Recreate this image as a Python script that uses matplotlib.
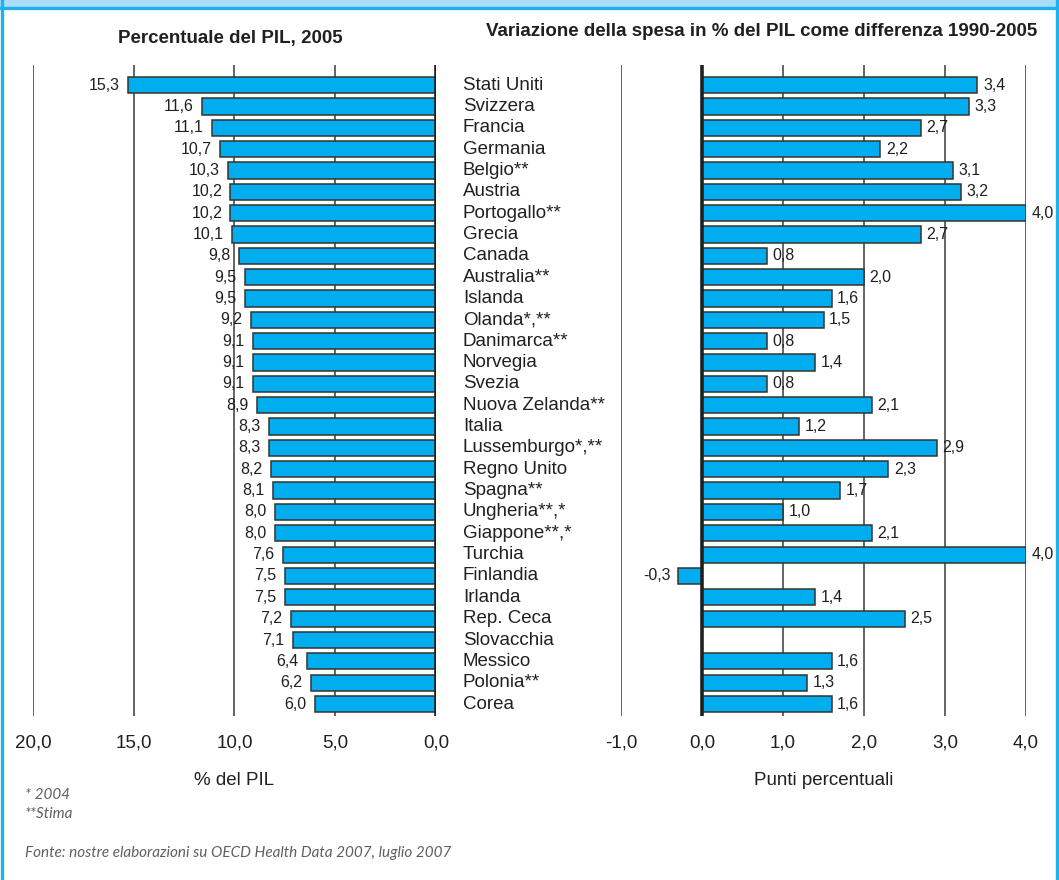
import numpy as np
import matplotlib
matplotlib.use("Agg")
import matplotlib.pyplot as plt
from matplotlib.patches import Rectangle
from matplotlib.lines import Line2D

# Paesi OCSE, spesa sanitaria
paesi = ["Stati Uniti", "Svizzera", "Francia", "Germania", "Belgio**", "Austria",
         "Portogallo**", "Grecia", "Canada", "Australia**", "Islanda", "Olanda*,**",
         "Danimarca**", "Norvegia", "Svezia", "Nuova Zelanda**", "Italia",
         "Lussemburgo*,**", "Regno Unito", "Spagna**", "Ungheria**,*", "Giappone**,*",
         "Turchia", "Finlandia", "Irlanda", "Rep. Ceca", "Slovacchia", "Messico",
         "Polonia**", "Corea"]
spesa_pil_2005 = [15.3, 11.6, 11.1, 10.7, 10.3, 10.2, 10.2, 10.1, 9.8, 9.5, 9.5, 9.2,
                  9.1, 9.1, 9.1, 8.9, 8.3, 8.3, 8.2, 8.1, 8.0, 8.0, 7.6, 7.5, 7.5,
                  7.2, 7.1, 6.4, 6.2, 6.0]
variazione_1990_2005 = [3.4, 3.3, 2.7, 2.2, 3.1, 3.2, 4.0, 2.7, 0.8, 2.0, 1.6, 1.5,
                        0.8, 1.4, 0.8, 2.1, 1.2, 2.9, 2.3, 1.7, 1.0, 2.1, 4.0, -0.3,
                        1.4, 2.5, np.nan, 1.6, 1.3, 1.6]
ticks_sx = [20.0, 15.0, 10.0, 5.0, 0.0]
ticks_dx = [-1.0, 0.0, 1.0, 2.0, 3.0, 4.0]

W, H = 1059, 880
BLU = "#00AEEF"
BORDO = "#333333"
TESTO = "#231F20"
FONT = "Liberation Sans"

fig = plt.figure(figsize=(W / 100, H / 100), dpi=100)
fig.patch.set_facecolor("white")

def fx(px):
    return px / W

def fy(py):
    return 1 - py / H

y = np.arange(len(paesi))
ax_top, ax_bot = 65, 716
ax_l = fig.add_axes([fx(33), fy(ax_bot), fx(436 - 33), (ax_bot - ax_top) / H])
ax_r = fig.add_axes([fx(621), fy(ax_bot), fx(1026 - 621), (ax_bot - ax_top) / H])

def fmt(v):
    return f"{v:.1f}".replace(".", ",")

def stile(ax, ticks):
    for s in ax.spines.values():
        s.set_visible(False)
    ax.set_ylim(len(paesi) - 0.44, -0.94)
    ax.set_yticks([])
    ax.set_xticks(ticks)
    ax.set_xticklabels([fmt(t) for t in ticks], fontsize=13.5, color=TESTO, family=FONT)
    ax.tick_params(axis="x", length=0, pad=13)
    for t in ticks:
        if t == 0:
            ax.axvline(0, color="#231F20", lw=2.6, zorder=4)
        else:
            ax.axvline(t, color="#3a3a3a", lw=1.1, zorder=1)
    ax.patch.set_alpha(0)

LBL = 11.5

# Pannello sinistro: spesa in % del PIL
ax_l.barh(y, spesa_pil_2005, height=0.76, color=BLU, edgecolor=BORDO, lw=1.1, zorder=3)
ax_l.set_xlim(20.0, 0.0)
stile(ax_l, ticks_sx)
for yi, v in zip(y, spesa_pil_2005):
    ax_l.annotate(fmt(v), (v, yi), xytext=(-6, 0), textcoords="offset points",
                  ha="right", va="center", fontsize=LBL, color=TESTO, family=FONT, zorder=5)
ax_l.set_xlabel("% del PIL", fontsize=13.5, color=TESTO, family=FONT, labelpad=15)

# Pannello destro: variazione 1990-2005
ax_r.barh(y, variazione_1990_2005, height=0.76, color=BLU, edgecolor=BORDO, lw=1.1, zorder=3)
ax_r.set_xlim(-1.0, 4.0)
stile(ax_r, ticks_dx)
for yi, v in zip(y, variazione_1990_2005):
    if np.isnan(v):
        continue
    if v < 0:
        ax_r.annotate(fmt(v), (v, yi), xytext=(-5, 0), textcoords="offset points",
                      ha="right", va="center", fontsize=LBL, color=TESTO, family=FONT, zorder=5)
    else:
        ax_r.annotate(fmt(v), (v, yi), xytext=(4, 0), textcoords="offset points",
                      ha="left", va="center", fontsize=LBL, color=TESTO, family=FONT, zorder=5)
ax_r.set_xlabel("Punti percentuali", fontsize=13.5, color=TESTO, family=FONT, labelpad=15)

# Nomi dei paesi al centro
for yi, nome in zip(y, paesi):
    yd = ax_l.transData.transform((0, yi))[1]
    yfig = fig.transFigure.inverted().transform((0, yd))[1]
    fig.text(fx(463), yfig, nome, ha="left", va="center", fontsize=13.5,
             color=TESTO, family=FONT)

# Titoli
fig.text(fx(230), fy(38), "Percentuale del PIL, 2005", ha="center", va="center",
         fontsize=13.5, fontweight="bold", color=TESTO, family=FONT)
fig.text(fx(762), fy(32), "Variazione della spesa in % del PIL come differenza 1990-2005",
         ha="center", va="center", fontsize=13.5, fontweight="bold", color=TESTO, family=FONT)

# Note
NOTA = "#5f6062"
fig.text(fx(25), fy(795), "* 2004", ha="left", va="center", fontsize=11,
         style="italic", color=NOTA, family="Lato")
fig.text(fx(25), fy(814), "**Stima", ha="left", va="center", fontsize=11,
         style="italic", color=NOTA, family="Lato")
fig.text(fx(25), fy(853), "Fonte: nostre elaborazioni su OECD Health Data 2007, luglio 2007",
         ha="left", va="center", fontsize=11, style="italic", color=NOTA, family="Lato")

# Cornice
fig.add_artist(Rectangle((0, fy(7)), 1, 7 / H, transform=fig.transFigure,
                         facecolor="#A8DDF7", edgecolor="none", zorder=0))
fig.add_artist(Line2D([0, 1], [fy(8), fy(8)], transform=fig.transFigure,
                      color="#1FB1EC", lw=2.4))
fig.add_artist(Line2D([fx(2), fx(2)], [0, 1], transform=fig.transFigure,
                      color="#1FB1EC", lw=2.4))
fig.add_artist(Line2D([fx(1056.5), fx(1056.5)], [0, 1], transform=fig.transFigure,
                      color="#1FB1EC", lw=2.4))

fig.savefig("out.png", dpi=100, facecolor="white")
